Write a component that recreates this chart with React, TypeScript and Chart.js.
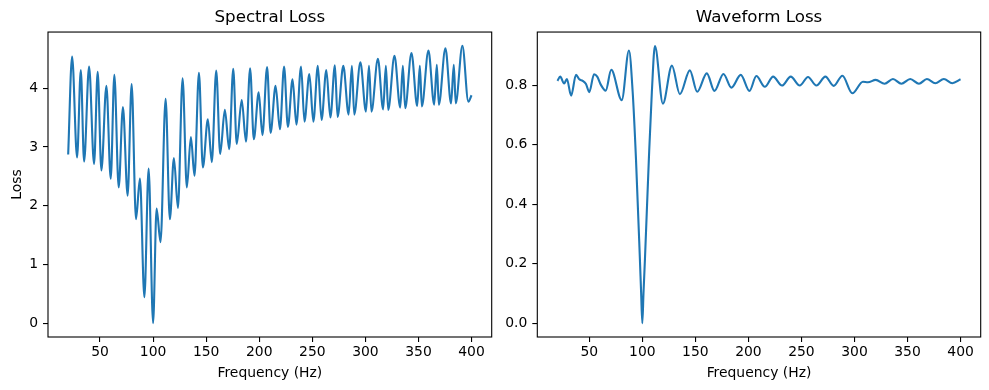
import React, { useEffect, useRef } from "react";
import { Chart, registerables } from "chart.js";
Chart.register(...registerables);

const FONT = "'DejaVu Sans', sans-serif";

const X_TICKS = [50, 100, 150, 200, 250, 300, 350, 400];
const SPECTRAL_Y_TICKS = [0, 1, 2, 3, 4];
const WAVE_Y_TICKS = [0, 0.2, 0.4, 0.6, 0.8];

const SPECTRAL_FREQ = [
  20, 23.7, 28.4, 31.9, 35, 39.7, 44.4, 47.8, 51.3, 56, 60.1, 63.5, 67.6, 71.6, 76, 79.8,
  83.9, 87.6, 91.8, 95.8, 100, 103.3, 107, 111.8, 115.8, 119.6, 123.4, 127.8, 131.8, 135.6,
  139, 143.2, 146.9, 151.6, 155.3, 159.5, 163.2, 167.6, 171.7, 175.5, 178.8, 183.5, 187.5,
  191.4, 194.9, 199.5, 203, 207.4, 210.7, 215.4, 219.5, 223.4, 227, 231.4, 235, 239.4, 242.6,
  247.2, 251, 255.2, 258.7, 263.2, 267, 271.3, 273.8, 279.2, 284.2, 287.3, 289.5, 295.3,
  300.5, 303.4, 305.7, 311.8, 316.7, 319.3, 321.5, 327.4, 332.8, 335.3, 337.5, 343.4, 348.8,
  351.3, 353.2, 359.4, 364.8, 367.3, 369.2, 375.4, 380.7, 383.3, 385.1, 391.4, 397, 400,
];
const SPECTRAL_LOSS = [
  2.87, 4.54, 2.82, 4.31, 2.75, 4.37, 2.71, 4.28, 2.6, 4.04, 2.46, 4.23, 2.31, 3.68, 2.17, 4.07,
  1.77, 2.46, 0.44, 2.63, 0.0, 1.95, 1.38, 3.82, 1.77, 2.81, 1.96, 4.17, 2.31, 3.17,
  2.51, 4.26, 2.65, 3.47, 2.74, 4.3, 2.88, 3.63, 2.96, 4.33, 3.05, 3.8, 3.09,
  4.34, 3.13, 3.93, 3.2, 4.36, 3.24, 4.04, 3.3, 4.37, 3.34, 4.15, 3.38, 4.37, 3.43,
  4.24, 3.43, 4.38, 3.46, 4.31, 3.5, 4.39, 3.51, 4.38, 3.55, 4.38, 3.55, 4.44,
  3.6, 4.38, 3.6, 4.5, 3.64, 4.38, 3.63, 4.55, 3.67, 4.38, 3.66, 4.6, 3.7,
  4.38, 3.69, 4.64, 3.72, 4.4, 3.72, 4.68, 3.74, 4.4, 3.74, 4.72, 3.77, 3.88,
];

const WAVE_FREQ = [
  20, 22.6, 26.3, 28.9, 32.9, 37.5, 40.6, 43.8, 46.9, 50, 54.5, 57.5, 60.7, 65.5, 70.7, 80.6,
  87.4, 90.9, 94, 97.7, 98.9, 100, 101.1, 102.5, 106.2, 109, 111.9, 119.4, 127.9, 135.4,
  144.8, 151.7, 160.8, 168, 176.5, 184, 192.8, 201, 207.5, 215.5, 223.3, 231.7, 239.9, 248.4,
  256.2, 264.1, 272.6, 280.4, 288.6, 298, 308, 312.7, 320, 328.4, 336.3, 344.2, 352.6, 360.8,
  368.3, 376.2, 384.3, 392.2, 400,
];
const WAVE_LOSS = [
  0.815, 0.829, 0.806, 0.821, 0.765, 0.835, 0.82, 0.815, 0.804, 0.777, 0.837, 0.829, 0.803, 0.782, 0.852, 0.75,
  0.917, 0.778, 0.554, 0.217, 0.1, 0.0, 0.1, 0.217, 0.554, 0.778, 0.932, 0.738, 0.866, 0.77,
  0.85, 0.778, 0.84, 0.781, 0.838, 0.792, 0.835, 0.781, 0.831, 0.795, 0.829, 0.799, 0.829, 0.799,
  0.828, 0.799, 0.829, 0.798, 0.832, 0.773, 0.812, 0.81, 0.818, 0.805, 0.821, 0.805, 0.821, 0.805,
  0.821, 0.807, 0.821, 0.807, 0.82,
];

const boxPlugin = {
  id: "axesBox",
  afterDraw(chart: any) {
    const { ctx, chartArea: a } = chart;
    ctx.save();
    ctx.strokeStyle = "#000";
    ctx.lineWidth = 1.1;
    ctx.strokeRect(a.left, a.top, a.right - a.left, a.bottom - a.top);
    ctx.restore();
  },
};

function makeConfig(opts: {
  title: string;
  xs: number[];
  ys: number[];
  yMin: number;
  yMax: number;
  yTicks: number[];
  yTitle: string;
  yWidth: number;
  padRight: number;
  fmt: (v: number) => string;
}): any {
  const tickFont = { family: FONT, size: 13.9 };
  return {
    type: "line",
    data: {
      datasets: [
        {
          data: opts.xs.map((x, i) => ({ x, y: opts.ys[i] })),
          borderColor: "#1f77b4",
          borderWidth: 2.1,
          pointRadius: 0,
          fill: false,
          cubicInterpolationMode: "monotone",
        },
      ],
    },
    options: {
      responsive: false,
      animation: false,
      devicePixelRatio: 1,
      layout: { padding: { left: 0, right: opts.padRight, top: 0, bottom: 0 } },
      plugins: {
        legend: { display: false },
        tooltip: { enabled: false },
        title: {
          display: true,
          text: opts.title,
          fullSize: false,
          color: "#000",
          font: { family: FONT, size: 16.7, weight: "normal" },
          padding: { top: 8, bottom: 4 },
        },
      },
      scales: {
        x: {
          type: "linear",
          min: 1,
          max: 419,
          afterBuildTicks: (s: any) => {
            s.ticks = X_TICKS.map((v) => ({ value: v }));
          },
          afterFit: (s: any) => {
            s.height = 53;
          },
          ticks: {
            font: tickFont,
            color: "#000",
            padding: 2,
            maxRotation: 0,
            autoSkip: false,
            callback: (v: any) => String(v),
          },
          grid: {
            drawOnChartArea: false,
            drawTicks: true,
            tickLength: 5,
            color: "#000",
            lineWidth: 1.1,
          },
          border: { display: false },
          title: {
            display: true,
            text: "Frequency (Hz)",
            color: "#000",
            font: { family: FONT, size: 13.9 },
            padding: { top: 0, bottom: 8 },
          },
        },
        y: {
          type: "linear",
          min: opts.yMin,
          max: opts.yMax,
          afterBuildTicks: (s: any) => {
            s.ticks = opts.yTicks.map((v) => ({ value: v }));
          },
          afterFit: (s: any) => {
            s.width = opts.yWidth;
          },
          ticks: {
            font: tickFont,
            color: "#000",
            padding: 5,
            autoSkip: false,
            callback: (v: any) => opts.fmt(Number(v)),
          },
          grid: {
            drawOnChartArea: false,
            drawTicks: true,
            tickLength: 5,
            color: "#000",
            lineWidth: 1.1,
          },
          border: { display: false },
          title: {
            display: opts.yTitle !== "",
            text: opts.yTitle,
            color: "#000",
            font: { family: FONT, size: 13.9 },
            padding: { top: 8.7, bottom: 0 },
          },
        },
      },
    },
    plugins: [boxPlugin],
  };
}

export default function App() {
  const leftRef = useRef<HTMLCanvasElement | null>(null);
  const rightRef = useRef<HTMLCanvasElement | null>(null);

  useEffect(() => {
    document.body.style.margin = "0";
    const c1 = new Chart(
      leftRef.current as HTMLCanvasElement,
      makeConfig({
        title: "Spectral Loss",
        xs: SPECTRAL_FREQ,
        ys: SPECTRAL_LOSS,
        yMin: -0.236,
        yMax: 4.956,
        yTicks: SPECTRAL_Y_TICKS,
        yTitle: "Loss",
        yWidth: 48,
        padRight: 2.3,
        fmt: (v) => String(v),
      })
    );
    const c2 = new Chart(
      rightRef.current as HTMLCanvasElement,
      makeConfig({
        title: "Waveform Loss",
        xs: WAVE_FREQ,
        ys: WAVE_LOSS,
        yMin: -0.0466,
        yMax: 0.979,
        yTicks: WAVE_Y_TICKS,
        yTitle: "",
        yWidth: 43.3,
        padRight: 8.3,
        fmt: (v) => v.toFixed(1),
      })
    );
    return () => {
      c1.destroy();
      c2.destroy();
    };
  }, []);

  return (
    <div style={{ position: "fixed", left: 0, top: 0, width: 989, height: 390, background: "#fff" }}>
      <canvas
        ref={leftRef}
        width={494}
        height={390}
        style={{ position: "absolute", left: 0, top: 0, width: 494, height: 390 }}
      />
      <canvas
        ref={rightRef}
        width={495}
        height={390}
        style={{ position: "absolute", left: 494, top: 0, width: 495, height: 390 }}
      />
    </div>
  );
}
